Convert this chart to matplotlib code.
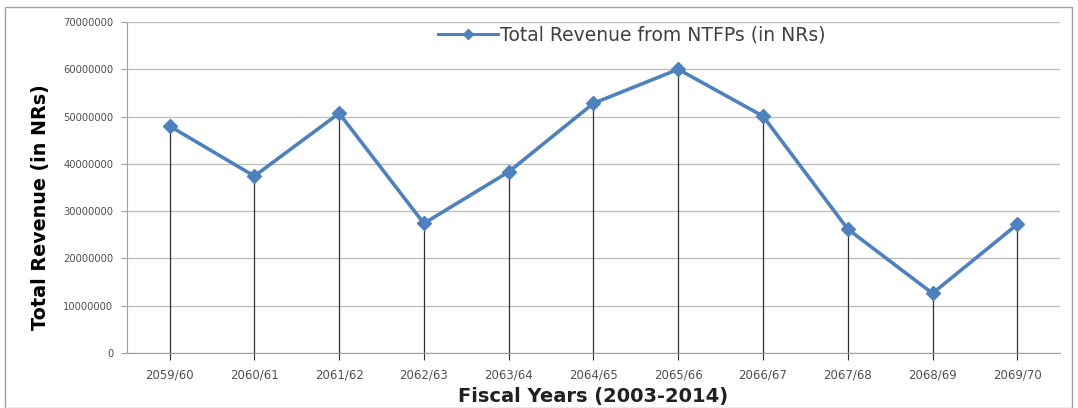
import matplotlib
matplotlib.use("Agg")
import matplotlib.pyplot as plt
from matplotlib.lines import Line2D
from matplotlib.patches import Rectangle

years = ["2059/60", "2060/61", "2061/62", "2062/63", "2063/64", "2064/65",
         "2065/66", "2066/67", "2067/68", "2068/69", "2069/70"]
revenue = [48000000, 37400000, 50700000, 27400000, 38300000, 52800000,
           60000000, 50100000, 26200000, 12600000, 27200000]
y_ticks = [0, 10000000, 20000000, 30000000, 40000000, 50000000, 60000000, 70000000]

blue = "#4F81BD"
grid_grey = "#BFBFBF"

fig = plt.figure(figsize=(10.78, 4.08), dpi=100)
ax = fig.add_axes([0.118, 0.135, 0.865, 0.811])

# outer chart border
fig.patches.append(Rectangle((0.005, 0.0), 0.989, 0.982, transform=fig.transFigure,
                             fill=False, edgecolor="#A0A0A0", linewidth=1.0))

x = list(range(len(years)))
ax.vlines(x, 0, revenue, colors="#303030", linewidth=0.9, zorder=2)
ax.plot(x, revenue, color=blue, linewidth=2.6, marker="D", markersize=7,
        markerfacecolor=blue, markeredgecolor=blue, zorder=3)

ax.set_xlim(-0.5, len(years) - 0.5)
ax.set_ylim(0, 70000000)
ax.set_yticks(y_ticks)
ax.set_yticklabels([str(v) for v in y_ticks])
ax.set_xticks(x)
ax.set_xticklabels(years)
ax.yaxis.grid(True, color=grid_grey, linewidth=1.0)
ax.set_axisbelow(True)

for side in ("top", "right"):
    ax.spines[side].set_visible(False)
ax.spines["left"].set_color("#A0A0A0")
ax.spines["bottom"].set_color("#A0A0A0")
ax.tick_params(axis="y", length=4, color="#A0A0A0", labelsize=7.2,
               labelcolor="#505050", pad=6)
ax.tick_params(axis="x", length=5, color="#303030", labelsize=8.5,
               labelcolor="#505050", pad=6)

ax.set_ylabel("Total Revenue (in NRs)", fontsize=13.8, fontweight="bold")
ax.yaxis.set_label_coords(-0.083, 0.44)
ax.set_xlabel("Fiscal Years (2003-2014)", fontsize=14, fontweight="bold",
              color="#202020")
ax.xaxis.set_label_coords(0.5, -0.104)

# legend handle: thin line with a small diamond
handle = Line2D([], [], color=blue, linewidth=2.2, marker="D", markersize=5,
                markerfacecolor=blue, markeredgecolor=blue)
ax.legend([handle], ["Total Revenue from NTFPs (in NRs)"], loc="center",
          bbox_to_anchor=(0.541, 0.96), frameon=False, fontsize=13.5,
          handlelength=3.2, handletextpad=0.15, labelcolor="#404040")

fig.savefig("out.png", dpi=100)
